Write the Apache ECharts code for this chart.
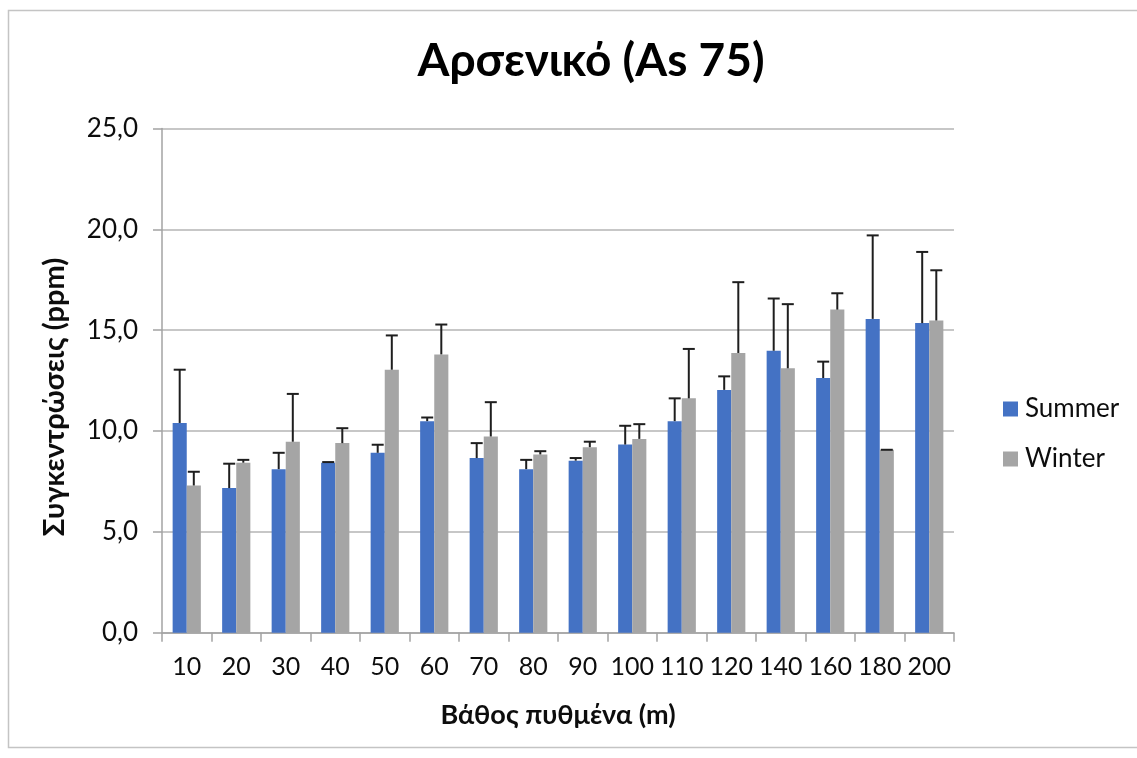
<!DOCTYPE html>
<html>
<head>
<meta charset="utf-8">
<title>Αρσενικό (As 75)</title>
<script src="https://cdn.jsdelivr.net/npm/echarts@6/dist/echarts.min.js"></script>
<style>
  html, body { margin: 0; padding: 0; background: #ffffff; }
  #chart { width: 1137px; height: 758px; }
</style>
</head>
<body>
<div id="chart"></div>
<script>
// Bottom depth categories (m)
const depths = ['10', '20', '30', '40', '50', '60', '70', '80', '90', '100', '110', '120', '140', '160', '180', '200'];

// Mean arsenic concentration (ppm) per season
const summerValues = [10.40, 7.17, 8.11, 8.43, 8.92, 10.49, 8.66, 8.11, 8.53, 9.33, 10.49, 12.04, 13.98, 12.63, 15.56, 15.35];
const winterValues = [7.30, 8.43, 9.47, 9.40, 13.04, 13.80, 9.73, 8.84, 9.20, 9.61, 11.62, 13.87, 13.11, 16.02, 9.07, 15.48];

// Upper error (ppm) above each mean
const summerErrors = [2.64, 1.21, 0.81, 0.03, 0.40, 0.18, 0.74, 0.46, 0.13, 0.93, 1.13, 0.67, 2.59, 0.81, 4.14, 3.53];
const winterErrors = [0.68, 0.14, 2.37, 0.74, 1.70, 1.48, 1.70, 0.16, 0.27, 0.73, 2.45, 3.51, 3.18, 0.81, 0.00, 2.49];

// Y axis ticks
const yMin = 0, yMax = 25, yStep = 5;

const FONT = 'Lato, "Open Sans", "Noto Sans", sans-serif';
const TEXT = '#0d0d0d';
const GAP_RATIO = 0.43;           // share of the band left empty
const barShare = (1 - GAP_RATIO) / 2;

function errorBarItem(side, values, errors) {
  return function (params, api) {
    const i = api.value(0);
    const v = values[i];
    const e = errors[i];
    const band = api.size([1, 0])[0];
    const dx = side * band * barShare / 2;
    const base = api.coord([i, v]);
    const top = api.coord([i, v + e]);
    const x = base[0] + dx;
    const half = 6;
    const style = { stroke: '#1e1e1e', lineWidth: 2 };
    return {
      type: 'group',
      children: [
        { type: 'line', shape: { x1: x, y1: base[1], x2: x, y2: top[1] }, style: style },
        { type: 'line', shape: { x1: x - half, y1: top[1], x2: x + half, y2: top[1] }, style: style }
      ]
    };
  };
}

const chart = echarts.init(document.getElementById('chart'), null, { renderer: 'canvas' });

chart.setOption({
  animation: false,
  backgroundColor: '#ffffff',
  textStyle: { fontFamily: FONT },
  graphic: [
    {
      type: 'rect',
      shape: { x: 8.5, y: 10.5, width: 1140, height: 737 },
      style: { fill: 'none', stroke: '#c4c4c4', lineWidth: 1.5 },
      silent: true
    },
    {
      type: 'text',
      x: 591, y: 61,
      style: {
        text: 'Αρσενικό (As 75)',
        font: 'bold 46px ' + FONT,
        fill: '#000000',
        textAlign: 'center',
        textVerticalAlign: 'middle'
      }
    },
    {
      // value axis title
      type: 'text',
      x: 55, y: 397,
      rotation: Math.PI / 2,
      style: {
        text: 'Συγκεντρώσεις (ppm)',
        font: 'bold 29px ' + FONT,
        fill: TEXT,
        textAlign: 'center',
        textVerticalAlign: 'middle'
      }
    }
  ],
  grid: { left: 162, right: 183, top: 128.5, bottom: 125.3, containLabel: false },
  legend: {
    orient: 'vertical',
    left: 998,
    top: 391,
    itemWidth: 15,
    itemHeight: 15,
    itemGap: 24,
    icon: 'rect',
    textStyle: { fontFamily: FONT, fontSize: 26, color: TEXT, padding: [0, 0, 0, 2] },
    data: ['Summer', 'Winter']
  },
  xAxis: {
    type: 'category',
    data: depths,
    name: 'Βάθος πυθμένα (m)',
    nameLocation: 'middle',
    nameGap: 69,
    nameTextStyle: { fontFamily: FONT, fontSize: 27, fontWeight: 'bold', color: TEXT },
    axisLine: { lineStyle: { color: '#a3a3a3', width: 1.5 } },
    axisTick: { show: true, length: 9, lineStyle: { color: '#a3a3a3', width: 1.5 } },
    axisLabel: { fontFamily: FONT, fontSize: 25, color: TEXT, margin: 22, interval: 0 },
    splitLine: { show: false }
  },
  yAxis: {
    type: 'value',
    min: yMin,
    max: yMax,
    interval: yStep,
    axisLine: { show: true, lineStyle: { color: '#a3a3a3', width: 1.5 } },
    axisTick: { show: true, length: 9, lineStyle: { color: '#a3a3a3', width: 1.5 } },
    axisLabel: {
      fontFamily: FONT, fontSize: 26, color: TEXT, margin: 24,
      formatter: v => v.toFixed(1).replace('.', ',')
    },
    splitLine: { show: true, lineStyle: { color: '#b5b5b5', width: 1.5 } }
  },
  series: [
    {
      name: 'Summer',
      type: 'bar',
      data: summerValues,
      barGap: '0%',
      barCategoryGap: (GAP_RATIO * 100) + '%',
      itemStyle: { color: '#4472C4' }
    },
    {
      name: 'Winter',
      type: 'bar',
      data: winterValues,
      barGap: '0%',
      barCategoryGap: (GAP_RATIO * 100) + '%',
      itemStyle: { color: '#a5a5a5' }
    },
    {
      name: 'Summer error',
      type: 'custom',
      data: depths.map((d, i) => [i, summerValues[i] + summerErrors[i]]),
      renderItem: errorBarItem(-1, summerValues, summerErrors),
      z: 5,
      silent: true
    },
    {
      name: 'Winter error',
      type: 'custom',
      data: depths.map((d, i) => [i, winterValues[i] + winterErrors[i]]),
      renderItem: errorBarItem(1, winterValues, winterErrors),
      z: 5,
      silent: true
    }
  ]
});
</script>
</body>
</html>
